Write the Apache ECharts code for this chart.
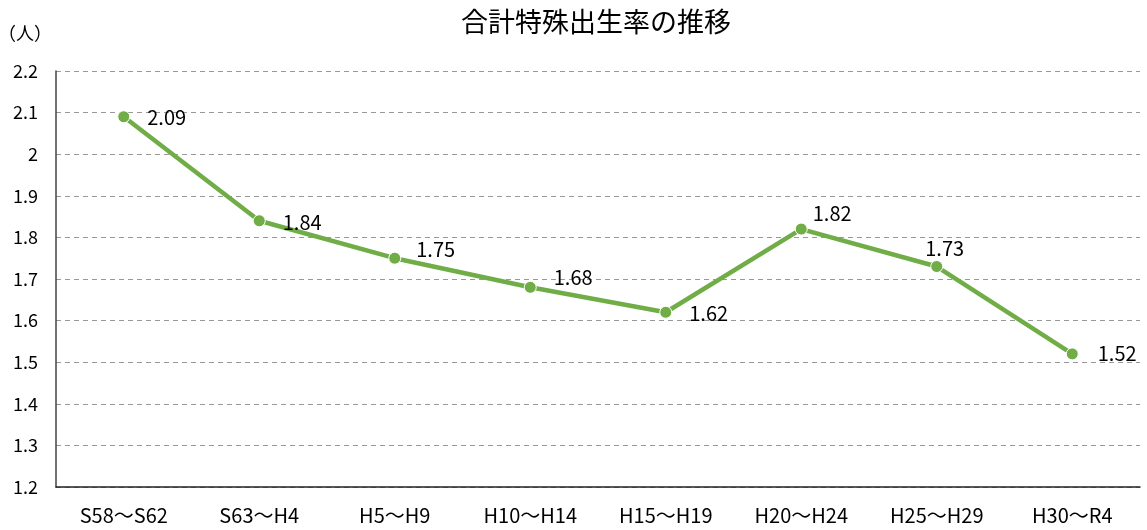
<!DOCTYPE html>
<html>
<head>
<meta charset="utf-8">
<script src="https://cdn.jsdelivr.net/npm/echarts@6/dist/echarts.min.js"></script>
<style>
  html, body { margin: 0; padding: 0; background: #fff; }
  #chart { width: 1147px; height: 530px; }
</style>
</head>
<body>
<div id="chart"></div>
<script>
// 期間（和暦）
const periods = ['S58～S62', 'S63～H4', 'H5～H9', 'H10～H14', 'H15～H19', 'H20～H24', 'H25～H29', 'H30～R4'];
// 合計特殊出生率
const rates = [2.09, 1.84, 1.75, 1.68, 1.62, 1.82, 1.73, 1.52];
const yTicks = { min: 1.2, max: 2.2, step: 0.1 };

const FONT = '"Noto Sans CJK JP", "Noto Sans", sans-serif';

const chart = echarts.init(document.getElementById('chart'));

// ラベル位置の微調整（点からのずれ）
const labelShift = [[0, 1], [0, 2], [-2, -9], [0, -10], [0, 1], [-12, -16], [-35, -18], [2, 0]];

const option = {
  animation: false,
  title: {
    text: '合計特殊出生率の推移',
    left: 456,
    top: 3,
    textStyle: { fontFamily: FONT, fontSize: 27, fontWeight: 'normal', color: '#000' },
  },
  grid: { left: 56, right: 7, top: 71, bottom: 43, outerBoundsMode: 'none' },
  xAxis: {
    type: 'category',
    data: periods,
    axisLine: { lineStyle: { color: '#222', width: 1.5 } },
    axisTick: { show: false },
    axisLabel: { fontFamily: FONT, fontSize: 20, color: '#000', margin: 18 },
  },
  yAxis: {
    type: 'value',
    name: '（人）',
    nameLocation: 'end',
    nameGap: 29,
    nameTextStyle: { fontFamily: FONT, fontSize: 18, color: '#000', align: 'right', padding: [0, 4, 0, 0] },
    min: yTicks.min,
    max: yTicks.max,
    interval: yTicks.step,
    axisLine: { show: true, lineStyle: { color: '#444', width: 1.5 } },
    axisTick: { show: false },
    axisLabel: {
      fontFamily: FONT, fontSize: 18, color: '#000', margin: 18,
      formatter: v => String(Math.round(v * 10) / 10),
    },
    splitLine: { lineStyle: { color: '#999', type: [5, 4], width: 1 } },
  },
  series: [{
    type: 'line',
    data: rates.map((v, i) => ({
      value: v,
      label: { offset: labelShift[i] },
    })),
    symbol: 'circle',
    symbolSize: 12,
    lineStyle: { color: '#70ad47', width: 4.5 },
    itemStyle: { color: '#70ad47', borderColor: '#fff', borderWidth: 1 },
    label: {
      show: true,
      position: 'right',
      distance: 17,
      fontFamily: FONT,
      fontSize: 20,
      color: '#000',
    },
  }],
};

chart.setOption(option);
</script>
</body>
</html>
